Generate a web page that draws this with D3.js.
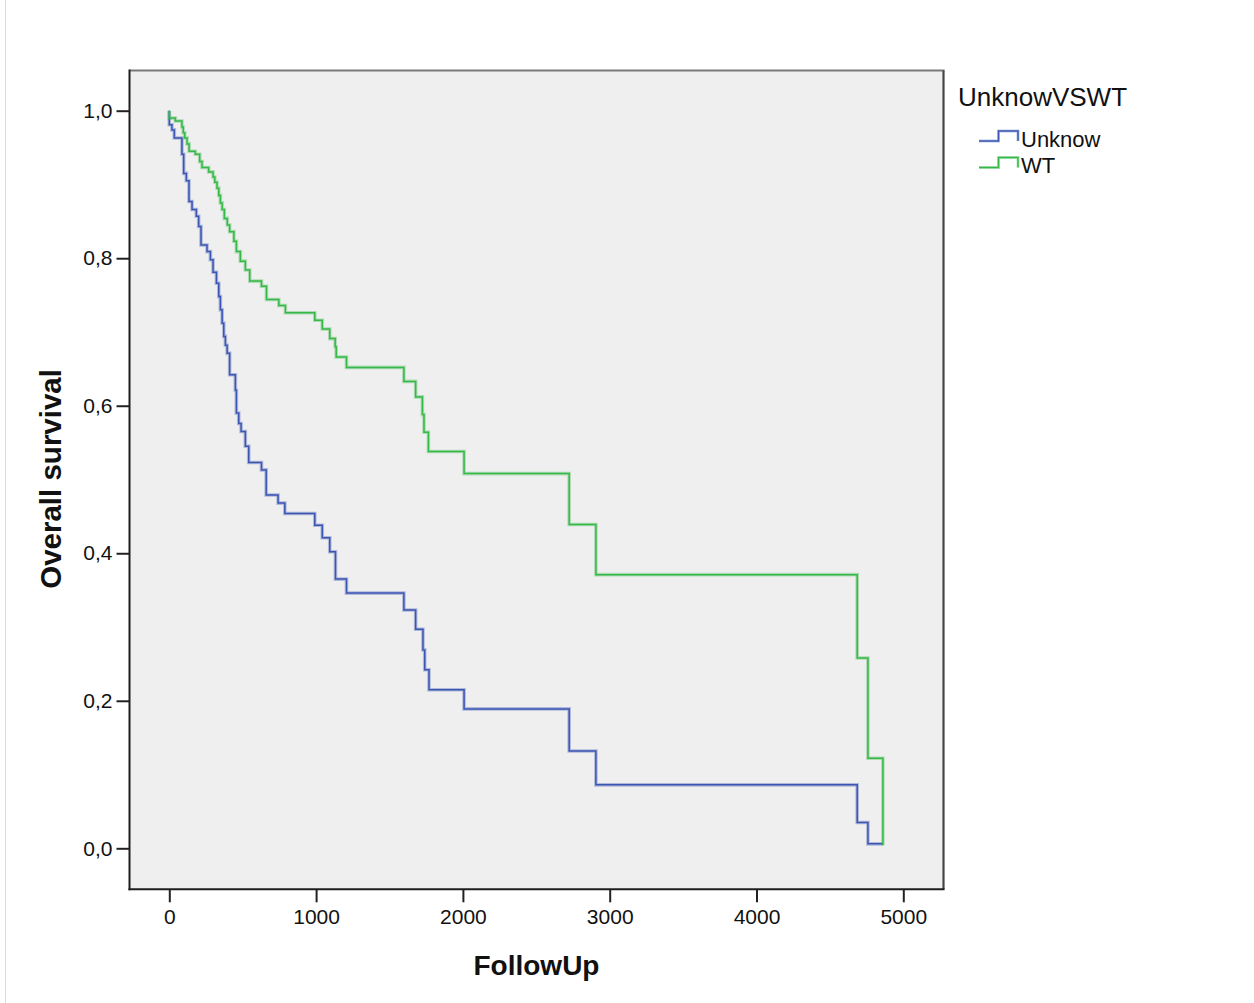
<!DOCTYPE html>
<html>
<head>
<meta charset="utf-8">
<script src="https://cdn.jsdelivr.net/npm/d3@7"></script>
<style>
html,body{margin:0;padding:0;background:#fff;}
svg{display:block;}
text{font-family:"Liberation Sans",Arial,sans-serif;fill:#111;}
</style>
</head>
<body>
<svg id="chart" width="1254" height="1003"></svg>
<script>
// ---- data ----
const xTicks = [0, 1000, 2000, 3000, 4000, 5000];
const yTicks = [0, 0.2, 0.4, 0.6, 0.8, 1.0];
const groups = ["Unknow", "WT"];
const legendTitle = "UnknowVSWT";
const xTitle = "FollowUp";
const yTitle = "Overall survival";

const unkTimes = [0, 0, 18, 34, 86, 98, 116, 134, 155, 184, 200, 216, 257, 280, 298, 321, 337, 348, 360, 371, 382, 394, 411, 450, 457, 473, 489, 518, 541, 628, 660, 741, 787, 991, 1042, 1093, 1132, 1207, 1598, 1678, 1728, 1740, 1769, 2008, 2724, 2906, 4686, 4759, 4861];
const unkSurv  = [1.0, 0.981, 0.974, 0.963, 0.941, 0.915, 0.905, 0.877, 0.866, 0.857, 0.843, 0.818, 0.809, 0.798, 0.781, 0.766, 0.748, 0.730, 0.712, 0.694, 0.682, 0.671, 0.642, 0.621, 0.590, 0.576, 0.565, 0.545, 0.523, 0.513, 0.479, 0.468, 0.454, 0.438, 0.421, 0.402, 0.365, 0.346, 0.323, 0.297, 0.269, 0.242, 0.215, 0.189, 0.132, 0.086, 0.035, 0.006, 0.006];

const wtTimes = [0, 0, 41, 86, 95, 105, 121, 135, 177, 207, 223, 268, 298, 310, 325, 337, 348, 360, 375, 395, 411, 440, 457, 484, 518, 548, 628, 662, 746, 791, 991, 1042, 1093, 1130, 1137, 1207, 1598, 1678, 1724, 1735, 1765, 2008, 2724, 2906, 4686, 4759, 4861];
const wtSurv  = [1.0, 0.990, 0.986, 0.978, 0.970, 0.963, 0.955, 0.945, 0.941, 0.931, 0.923, 0.917, 0.910, 0.903, 0.895, 0.885, 0.875, 0.866, 0.854, 0.845, 0.836, 0.823, 0.809, 0.796, 0.784, 0.769, 0.762, 0.744, 0.736, 0.726, 0.716, 0.704, 0.691, 0.680, 0.666, 0.652, 0.633, 0.612, 0.588, 0.564, 0.538, 0.508, 0.439, 0.371, 0.258, 0.122, 0.004];

const colors = {Unknow: "#3b55b3", WT: "#36b847"};

// ---- layout ----
const svg = d3.select("#chart");
const frame = {left: 129.5, right: 943.5, top: 70.5, bottom: 889.3};

const x = d3.scaleLinear().domain([0, 5000]).range([169.3, 903.3]);
const y = d3.scaleLinear().domain([0, 1]).range([848.3, 110.7]);

// faint image edge line on the left
svg.append("line").attr("x1", 5.5).attr("x2", 5.5).attr("y1", 0).attr("y2", 1003)
  .attr("stroke", "#dcdcdc").attr("stroke-width", 1);

// plot background
svg.append("rect")
  .attr("x", frame.left).attr("y", frame.top)
  .attr("width", frame.right - frame.left).attr("height", frame.bottom - frame.top)
  .attr("fill", "#efefef");

// curves
const line = d3.line().x(d => x(d[0])).y(d => y(d[1])).curve(d3.curveStepAfter);
const series = [
  {name: "Unknow", pts: d3.zip(unkTimes, unkSurv)},
  {name: "WT", pts: d3.zip(wtTimes, wtSurv)}
];
const g = svg.append("g");
series.forEach(s => {
  g.append("path").attr("d", line(s.pts)).attr("fill", "none")
    .attr("stroke", colors[s.name]).attr("stroke-width", 3.6).attr("stroke-opacity", 0.35);
  g.append("path").attr("d", line(s.pts)).attr("fill", "none")
    .attr("stroke", colors[s.name]).attr("stroke-width", 1.5);
});

// frame borders
svg.append("line").attr("x1", frame.left).attr("x2", frame.right + 1).attr("y1", frame.top).attr("y2", frame.top)
  .attr("stroke", "#7a7a7a").attr("stroke-width", 2.2);
svg.append("line").attr("x1", frame.right).attr("x2", frame.right).attr("y1", frame.top).attr("y2", frame.bottom)
  .attr("stroke", "#454545").attr("stroke-width", 2.2);

// axes
const xAxis = d3.axisBottom(x).tickValues(xTicks).tickSize(13).tickPadding(7).tickFormat(d3.format("d"));
const yAxis = d3.axisLeft(y).tickValues(yTicks).tickSize(13).tickPadding(4)
  .tickFormat(d => d3.format(".1f")(d).replace(".", ","));

const gx = svg.append("g").attr("transform", `translate(0,${frame.bottom})`).call(xAxis);
const gy = svg.append("g").attr("transform", `translate(${frame.left},0)`).call(yAxis);
[gx, gy].forEach(ax => {
  ax.select(".domain").remove();
  ax.selectAll(".tick line").attr("stroke", "#222").attr("stroke-width", 2);
  ax.selectAll(".tick text").attr("font-size", 21).attr("fill", "#111")
    .attr("font-family", '"Liberation Sans",Arial,sans-serif');
});
svg.append("line").attr("x1", frame.left).attr("x2", frame.left).attr("y1", frame.top - 1).attr("y2", frame.bottom + 1)
  .attr("stroke", "#1e1e1e").attr("stroke-width", 2);
svg.append("line").attr("x1", frame.left - 1).attr("x2", frame.right + 1).attr("y1", frame.bottom).attr("y2", frame.bottom)
  .attr("stroke", "#1e1e1e").attr("stroke-width", 2);

// axis titles
svg.append("text").attr("x", (frame.left + frame.right) / 2).attr("y", 975)
  .attr("text-anchor", "middle").attr("font-size", 28).attr("font-weight", "bold")
  .text(xTitle);
svg.append("text")
  .attr("transform", `translate(61,${(frame.top + frame.bottom) / 2 - 1}) rotate(-90)`)
  .attr("text-anchor", "middle").attr("font-size", 29.5).attr("font-weight", "bold")
  .text(yTitle);

// legend
const lg = svg.append("g");
lg.append("text").attr("x", 958).attr("y", 106).attr("font-size", 26).text(legendTitle);
groups.forEach((name, i) => {
  const by = 141 + i * 26.5;
  const sym = [[979, by], [998.5, by], [998.5, by - 10], [1018, by - 10], [1018, by]];
  lg.append("path").attr("d", d3.line()(sym)).attr("fill", "none")
    .attr("stroke", colors[name]).attr("stroke-width", 3).attr("stroke-opacity", 0.35);
  lg.append("path").attr("d", d3.line()(sym)).attr("fill", "none")
    .attr("stroke", colors[name]).attr("stroke-width", 1.5);
  lg.append("text").attr("x", 1021).attr("y", by + 5.5).attr("font-size", 22).text(name);
});
</script>
</body>
</html>
